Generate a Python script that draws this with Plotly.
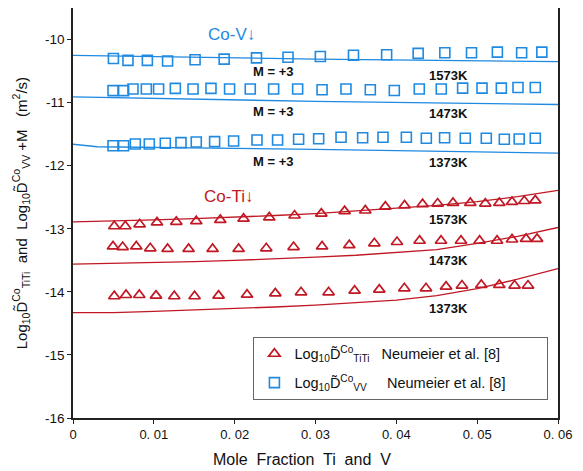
import plotly.graph_objects as go

# ---------------- data ----------------
# Co-V (squares), Log10 D_VV + M
v1573_x = [0.0050, 0.0068, 0.0092, 0.0117, 0.0151, 0.0187, 0.0227, 0.0266, 0.0306,
           0.0347, 0.0388, 0.0427, 0.0460, 0.0493, 0.0525, 0.0555, 0.0580]
v1573_y = [-10.30, -10.33, -10.33, -10.34, -10.32, -10.31, -10.29, -10.28, -10.27,
           -10.25, -10.24, -10.22, -10.21, -10.21, -10.20, -10.21, -10.20]

v1473_x = [0.00495, 0.00626, 0.00742, 0.00907, 0.01059, 0.01266, 0.01485, 0.01707,
           0.01937, 0.02193, 0.02482, 0.02779, 0.03081, 0.03377, 0.03678, 0.03975,
           0.04284, 0.04556, 0.04820, 0.05060, 0.05299, 0.05505, 0.05719]
v1473_y = [-10.81, -10.81, -10.785, -10.785, -10.785, -10.775, -10.785, -10.775,
           -10.785, -10.785, -10.785, -10.785, -10.796, -10.785, -10.796, -10.807,
           -10.785, -10.785, -10.77, -10.77, -10.77, -10.76, -10.76]

v1373_x = [0.00495, 0.00626, 0.00771, 0.00944, 0.01142, 0.01336, 0.01525, 0.01752,
           0.01987, 0.02276, 0.02531, 0.02791, 0.03039, 0.03316, 0.03583, 0.03835,
           0.04124, 0.04371, 0.04597, 0.04853, 0.05113, 0.05336, 0.05520, 0.05719]
v1373_y = [-11.683, -11.683, -11.656, -11.656, -11.645, -11.635, -11.624, -11.619,
           -11.608, -11.592, -11.592, -11.581, -11.572, -11.549, -11.556, -11.549,
           -11.549, -11.565, -11.556, -11.565, -11.565, -11.581, -11.576, -11.565]

# Co-Ti (triangles), Log10 D_TiTi
t1573_x = [0.00511, 0.00647, 0.00824, 0.01039, 0.01278, 0.01525, 0.01822, 0.02110,
           0.02428, 0.02741, 0.03072, 0.03360, 0.03616, 0.03864, 0.04102, 0.04325,
           0.04511, 0.04701, 0.04915, 0.05101, 0.05274, 0.05431, 0.05583, 0.05719]
t1573_y = [-12.96, -12.96, -12.93, -12.90, -12.89, -12.88, -12.86, -12.84, -12.82,
           -12.79, -12.76, -12.72, -12.71, -12.65, -12.63, -12.61, -12.60, -12.59,
           -12.59, -12.60, -12.59, -12.575, -12.56, -12.55]

t1473_x = [0.00495, 0.00614, 0.00783, 0.00956, 0.01170, 0.01430, 0.01727, 0.02049,
           0.02391, 0.02729, 0.03081, 0.03418, 0.03728, 0.04008, 0.04288, 0.04553,
           0.04800, 0.05030, 0.05246, 0.05431, 0.05605, 0.05741]
t1473_y = [-13.28, -13.29, -13.28, -13.31, -13.32, -13.32, -13.32, -13.32, -13.31,
           -13.29, -13.28, -13.26, -13.23, -13.21, -13.19, -13.19, -13.19, -13.19,
           -13.19, -13.17, -13.16, -13.16]

t1373_x = [0.00511, 0.00656, 0.00820, 0.01027, 0.01253, 0.01504, 0.01801, 0.02153,
           0.02503, 0.02821, 0.03162, 0.03484, 0.03789, 0.04099, 0.04367, 0.04615,
           0.04812, 0.05051, 0.05274, 0.05463, 0.05629]
t1373_y = [-14.07, -14.05, -14.05, -14.06, -14.07, -14.07, -14.06, -14.045, -14.024,
           -14.008, -14.008, -13.981, -13.965, -13.944, -13.944, -13.917, -13.901,
           -13.89, -13.89, -13.901, -13.901]

# model curves
vline1573_x = [0.0, 0.03, 0.06]
vline1573_y = [-10.25, -10.31, -10.35]
vline1473_x = [0.0, 0.03, 0.06]
vline1473_y = [-10.91, -10.98, -11.03]
vline1373_x = [0.0, 0.003, 0.03, 0.06]
vline1373_y = [-11.66, -11.70, -11.74, -11.80]

tline_x = [0.0, 0.005, 0.01, 0.015, 0.02, 0.025, 0.03, 0.035, 0.04, 0.045, 0.05, 0.055, 0.06]
tline1573_y = [-12.89, -12.88, -12.86, -12.84, -12.82, -12.79, -12.76, -12.72, -12.68,
               -12.63, -12.57, -12.49, -12.39]
tline1473_y = [-13.56, -13.55, -13.54, -13.52, -13.50, -13.48, -13.45, -13.42, -13.38,
               -13.33, -13.23, -13.12, -12.98]
tline1373_y = [-14.33, -14.33, -14.31, -14.29, -14.27, -14.24, -14.21, -14.17, -14.13,
               -14.06, -13.95, -13.80, -13.63]

x_ticks = [0, 0.01, 0.02, 0.03, 0.04, 0.05, 0.06]
x_ticktext = ["0", "0. 01", "0. 02", "0. 03", "0. 04", "0. 05", "0. 06"]
y_ticks = [-16, -15, -14, -13, -12, -11, -10]
y_ticktext = ["-16", "-15", "-14", "-13", "-12", "-11", "-10"]

# labels (text, x, y)
m_labels_y = [-10.50, -11.14, -11.935]
m_label_x = 0.0248
temp_labels = ["1573K", "1473K", "1373K", "1573K", "1473K", "1373K"]
temp_labels_y = [-10.57, -11.165, -11.95, -12.855, -13.50, -14.27]
temp_label_x = 0.0464

BLUE = "#1f8ae0"
RED = "#c01824"
FONT = "Liberation Sans, Arial, sans-serif"

fig = go.Figure()

# model lines
for lx, ly in [(vline1573_x, vline1573_y), (vline1473_x, vline1473_y), (vline1373_x, vline1373_y)]:
    fig.add_trace(go.Scatter(x=lx, y=ly, mode="lines", line=dict(color=BLUE, width=1.3),
                             showlegend=False, hoverinfo="skip"))
for ly in [tline1573_y, tline1473_y, tline1373_y]:
    fig.add_trace(go.Scatter(x=tline_x, y=ly, mode="lines", line=dict(color=RED, width=1.3),
                             showlegend=False, hoverinfo="skip"))

NB = "\u00a0"
ti_name = ("Log<sub>10</sub>D\u0303<sup>Co</sup><sub>TiTi</sub>" + NB * 3 +
           "Neumeier et al. [8]" + NB * 9)
v_name = ("Log<sub>10</sub>D\u0303<sup>Co</sup><sub>VV</sub>" + NB * 5 +
          "Neumeier et al. [8]" + NB * 9)

for i, (tx, ty) in enumerate([(t1573_x, t1573_y), (t1473_x, t1473_y), (t1373_x, t1373_y)]):
    fig.add_trace(go.Scatter(x=tx, y=ty, mode="markers", name=ti_name,
                             legendgroup="ti", showlegend=(i == 0),
                             marker=dict(symbol="triangle-up-open", size=10, color=RED,
                                         line=dict(width=1.7, color=RED))))
for i, (vx, vy) in enumerate([(v1573_x, v1573_y), (v1473_x, v1473_y), (v1373_x, v1373_y)]):
    fig.add_trace(go.Scatter(x=vx, y=vy, mode="markers", name=v_name,
                             legendgroup="v", showlegend=(i == 0),
                             marker=dict(symbol="square-open", size=10, color=BLUE,
                                         line=dict(width=1.6, color=BLUE))))

ann = []
for yy in m_labels_y:
    ann.append(dict(x=m_label_x, y=yy, xref="x", yref="y", text="<b>M = +3</b>",
                    showarrow=False, font=dict(size=13, color="#111", family=FONT)))
for t, yy in zip(temp_labels, temp_labels_y):
    ann.append(dict(x=temp_label_x, y=yy, xref="x", yref="y", text="<b>" + t + "</b>",
                    showarrow=False, font=dict(size=13, color="#111", family=FONT)))
ann.append(dict(x=0.0196, y=-9.92, xref="x", yref="y", text="Co-V<b>↓</b>",
                showarrow=False, font=dict(size=17, color=BLUE, family=FONT)))
ann.append(dict(x=0.0192, y=-12.495, xref="x", yref="y", text="Co-Ti<b>↓</b>",
                showarrow=False, font=dict(size=17, color=RED, family=FONT)))
# axis titles
ann.append(dict(x=0.472, y=-0.1024, xref="paper", yref="paper",
                text="Mole  Fraction  Ti  and  V", showarrow=False,
                xanchor="center", yanchor="middle",
                font=dict(size=16, color="#111", family=FONT)))
ann.append(dict(x=-0.1087, y=0.5, xref="paper", yref="paper", textangle=-90,
                text=("Log<sub>10</sub>D\u0303<sup>Co</sup><sub>TiTi</sub>  and  "
                      "Log<sub>10</sub>D\u0303<sup>Co</sup><sub>VV</sub> +M   (m<sup>2</sup>/s)"),
                showarrow=False, xanchor="center", yanchor="middle",
                font=dict(size=15, color="#111", family=FONT)))

# the page adds an 8px body margin: figure is 8px smaller, margins shifted by 8px
fig.update_layout(
    width=575, height=463,
    margin=dict(l=65, r=25, t=0, b=53, autoexpand=False),
    paper_bgcolor="white", plot_bgcolor="white",
    font=dict(family=FONT, color="#111"),
    annotations=ann,
    showlegend=True,
    legend=dict(x=0.372, y=0.198, xanchor="left", yanchor="top",
                bordercolor="#666", borderwidth=1, bgcolor="white",
                traceorder="grouped", tracegroupgap=7,
                font=dict(size=14.5, color="#111", family=FONT)),
    xaxis=dict(range=[0, 0.06], tickvals=x_ticks, ticktext=x_ticktext,
               showgrid=False, zeroline=False, showline=True, linecolor="#222",
               linewidth=1.5, mirror=True, ticks="outside", ticklen=4,
               tickcolor="#222", tickfont=dict(size=13, color="#111", family=FONT)),
    yaxis=dict(range=[-16, -9.5], tickvals=y_ticks, ticktext=y_ticktext,
               showgrid=False, zeroline=False, showline=True, linecolor="#222",
               linewidth=1.5, mirror=True, ticks="outside", ticklen=4,
               tickcolor="#222", tickfont=dict(size=13.5, color="#111", family=FONT)),
)

fig.write_html("out.html")
